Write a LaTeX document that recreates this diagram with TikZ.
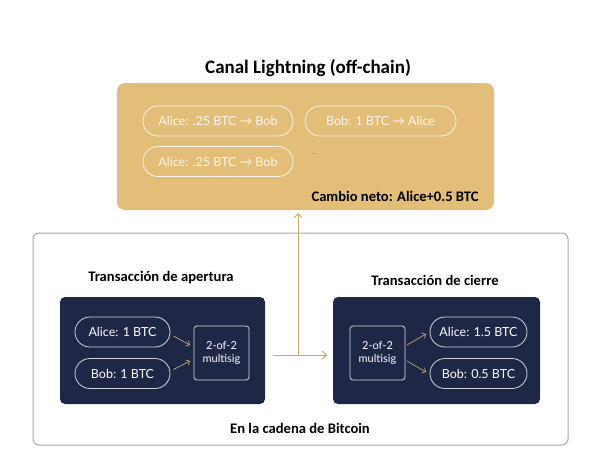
\documentclass[tikz,border=0pt]{standalone}
\usepackage{fontspec}
\setmainfont{Carlito}
\newfontfamily\pillfont{Lato}
\usetikzlibrary{arrows.meta}
\definecolor{gold}{HTML}{E2BE78}
\definecolor{navy}{HTML}{1F2747}
\definecolor{goldline}{HTML}{C9A862}
\begin{document}
\begin{tikzpicture}[x=1pt,y=-1pt,
  lbl/.style={font=\bfseries\fontsize{14.6}{16}\selectfont, text=black},
  gpill/.style={draw=white!85!gold, line width=0.8pt, rounded corners=15pt, text=white!90!gold, font=\pillfont\fontsize{12.5}{14}\selectfont, minimum height=30pt, inner sep=0pt},
  npill/.style={draw=white!80!navy, line width=0.8pt, rounded corners=15pt, text=white, font=\pillfont\fontsize{12.5}{14}\selectfont, minimum height=30pt, minimum width=95pt, inner sep=0pt},
  msig/.style={draw=white!80!navy, line width=0.8pt, rounded corners=3pt, text=white, font=\pillfont\fontsize{11}{13}\selectfont, minimum width=55pt, minimum height=54pt, align=center, inner sep=0pt},
  small/.style={-{Straight Barb[length=3pt]}, draw=goldline!80!white, line width=0.6pt},
  conn/.style={draw=goldline, line width=0.9pt}]
\useasboundingbox (0,0) rectangle (600,467);
\node[lbl, font=\bfseries\fontsize{19}{21}\selectfont] (title) at (308,68) {Canal Lightning (off-chain)};
\fill[gold, rounded corners=8pt] (117,83) rectangle (494,210);
\coordinate (goldbot) at (298,213);
\node[gpill, minimum width=150pt] (p1) at (218,121) {Alice: .25 BTC → Bob};
\node[gpill, minimum width=151pt] (p2) at (380.5,121) {Bob: 1 BTC → Alice};
\node[gpill, minimum width=150pt] (p3) at (218,161.5) {Alice: .25 BTC → Bob};
\node[text=gray, font=\fontsize{8}{9}\selectfont] (dots) at (315,154) {...};
\node[lbl, anchor=east] (net) at (482,196) {Cambio neto: Alice+0.5 BTC};
\draw[gray!70, line width=1pt, rounded corners=6pt] (33,233) rectangle (568,445);
\node[lbl] (t1) at (161,278) {Transacción de apertura};
\node[lbl] (t2) at (435,280) {Transacción de cierre};
\fill[navy, rounded corners=5pt] (60,297) rectangle (265,404);
\fill[navy, rounded corners=5pt] (333,297) rectangle (540,404);
\node[npill] (a1) at (122.5,332) {Alice: 1 BTC};
\node[npill] (b1) at (122.5,373.5) {Bob: 1 BTC};
\node[msig] (m1) at (221.5,353) {2-of-2\\multisig};
\node[msig] (m2) at (377.5,353) {2-of-2\\multisig};
\node[npill, minimum width=97pt] (a2) at (478.5,332) {Alice: 1.5 BTC};
\node[npill, minimum width=97pt] (b2) at (478.5,373.5) {Bob: 0.5 BTC};
\draw[small] (a1.east) ++(3,4) -- (190,345);
\draw[small] (b1.east) ++(3,-4) -- (190,361);
\draw[small] (407,345) -- (426,334);
\draw[small] (407,361) -- (426,372);
\coordinate (cs) at (273,355);
\coordinate (cj) at (298,355);
\coordinate (ce) at (327,355);
\draw[conn, -{Straight Barb[length=4pt]}] (cs) -- (ce);
\draw[conn, -{Straight Barb[length=4pt]}] (cj) -- (goldbot);
\node[lbl] (chain) at (300,428) {En la cadena de Bitcoin};
\end{tikzpicture}
\end{document}
